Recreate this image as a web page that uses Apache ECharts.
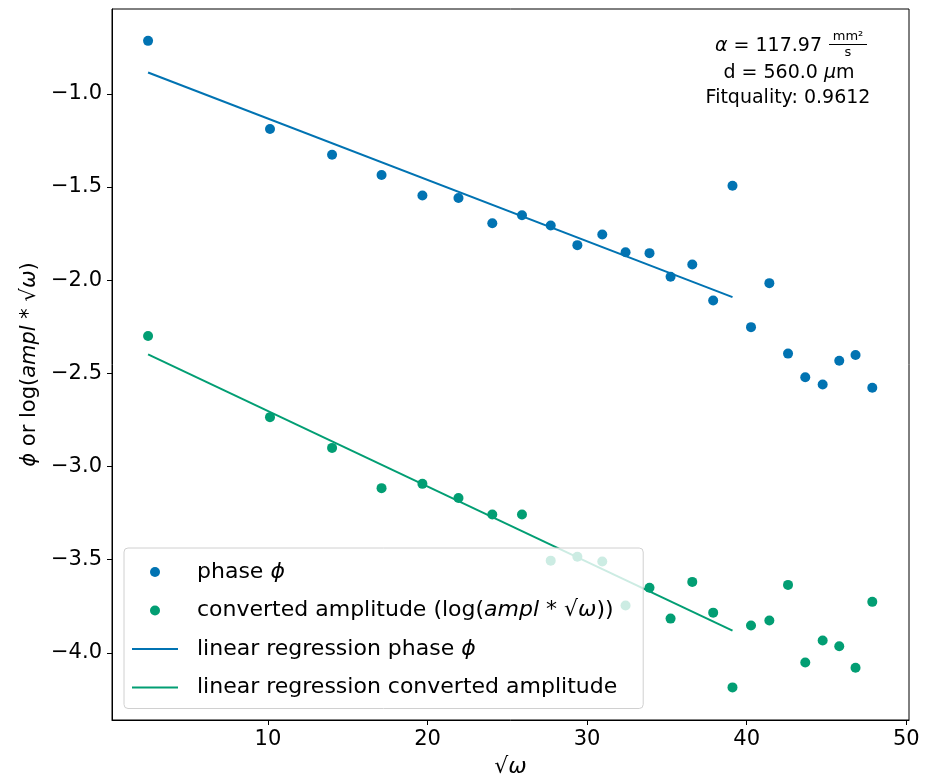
<!DOCTYPE html>
<html>
<head>
<meta charset="utf-8">
<script src="https://cdn.jsdelivr.net/npm/echarts@6/dist/echarts.min.js"></script>
<style>
  html, body { margin: 0; padding: 0; background: #fff; }
  #chart { width: 926px; height: 784px; }
</style>
</head>
<body>
<div id="chart"></div>
<script>
const sqrtOmega = [2.49, 10.13, 14.02, 17.12, 19.68, 21.94, 24.06, 25.92, 27.72, 29.39, 30.95, 32.41, 33.91,
  35.23, 36.59, 37.90, 39.11, 40.27, 41.42, 42.59, 43.67, 44.76, 45.80, 46.82, 47.87];
const phase = [-0.716, -1.189, -1.327, -1.436, -1.546, -1.559, -1.695, -1.652, -1.707, -1.812, -1.755, -1.850, -1.855,
  -1.982, -1.916, -2.109, -1.493, -2.252, -2.016, -2.394, -2.521, -2.560, -2.432, -2.402, -2.577];
const amplitude = [-2.300, -2.735, -2.900, -3.116, -3.093, -3.169, -3.257, -3.257, -3.505, -3.484, -3.510, -3.746, -3.650,
  -3.816, -3.619, -3.784, -4.185, -3.853, -3.826, -3.635, -4.051, -3.933, -3.964, -4.080, -3.726];

// regression lines (fit over the first 17 points)
const fitX = [2.49, 39.11];
const phaseFit = [-0.886, -2.091];
const ampFit = [-2.398, -3.880];

const xTicks = [10, 20, 30, 40, 50];
const yTicks = [-4.0, -3.5, -3.0, -2.5, -2.0, -1.5, -1.0];

const BLUE = '#0173B2';
const GREEN = '#029E73';
const FONT = 'DejaVu Sans';
const LINE_ICON = 'path://M0,0H46V2H0Z';

const pairs = (xs, ys) => xs.map((x, i) => [x, ys[i]]);
const minus = v => v.toFixed(1).replace('-', '\u2212');

const legendText = {
  'phase': 'phase {i|ϕ}',
  'amp': 'converted amplitude (log({i|ampl} * √{i|ω}))',
  'fitPhase': 'linear regression phase {i|ϕ}',
  'fitAmp': 'linear regression converted amplitude'
};

const chart = echarts.init(document.getElementById('chart'));

chart.setOption({
  animation: false,
  textStyle: { fontFamily: FONT },
  grid: {
    left: 112, right: 17, top: 9, bottom: 64,
    show: true, borderColor: '#000', borderWidth: 1, backgroundColor: 'transparent'
  },
  xAxis: {
    type: 'value',
    min: 0.23, max: 50.17,
    name: '√{i|ω}',
    nameLocation: 'middle',
    nameGap: 36,
    nameTextStyle: { fontFamily: FONT, fontSize: 22, color: '#000', rich: { i: { fontStyle: 'italic', fontSize: 22, fontFamily: FONT } } },
    axisLine: { show: true, onZero: false, lineStyle: { color: '#000', width: 1 } },
    axisTick: { show: true, length: 5, customValues: xTicks, lineStyle: { color: '#000' } },
    axisLabel: { customValues: xTicks, margin: 9, fontSize: 21, color: '#000', fontFamily: FONT },
    splitLine: { show: false }
  },
  yAxis: {
    type: 'value',
    min: -4.36, max: -0.545,
    name: '{i|ϕ} or log({i|ampl} * √{i|ω})',
    nameLocation: 'middle',
    nameGap: 70,
    nameTextStyle: { fontFamily: FONT, fontSize: 21, color: '#000', rich: { i: { fontStyle: 'italic', fontSize: 21, fontFamily: FONT } } },
    axisLine: { show: true, onZero: false, lineStyle: { color: '#000', width: 1 } },
    axisTick: { show: true, length: 5, customValues: yTicks, lineStyle: { color: '#000' } },
    axisLabel: { customValues: yTicks, margin: 10, fontSize: 21, color: '#000', fontFamily: FONT, formatter: minus },
    splitLine: { show: false }
  },
  legend: {
    orient: 'vertical',
    left: 124, top: 548,
    padding: [12, 26, 9, 8],
    itemWidth: 46, itemHeight: 10,
    itemGap: 14.5,
    backgroundColor: 'rgba(255,255,255,0.8)',
    borderColor: '#d0d0d0', borderWidth: 1, borderRadius: 4,
    data: [
      { name: 'phase', icon: 'circle' },
      { name: 'amp', icon: 'circle' },
      { name: 'fitPhase', icon: LINE_ICON },
      { name: 'fitAmp', icon: LINE_ICON }
    ],
    formatter: name => legendText[name],
    textStyle: {
      fontFamily: FONT, fontSize: 22, color: '#000', lineHeight: 24, padding: [0, 0, 0, 14],
      rich: { i: { fontStyle: 'italic', fontSize: 22, fontFamily: FONT } }
    }
  },
  series: [
    {
      name: 'phase', type: 'scatter', symbolSize: 10,
      itemStyle: { color: BLUE, opacity: 1 },
      data: pairs(sqrtOmega, phase)
    },
    {
      name: 'amp', type: 'scatter', symbolSize: 10,
      itemStyle: { color: GREEN, opacity: 1 },
      data: pairs(sqrtOmega, amplitude)
    },
    {
      name: 'fitPhase', type: 'line', symbol: 'none', showSymbol: false,
      lineStyle: { color: BLUE, width: 2 }, itemStyle: { color: BLUE },
      data: pairs(fitX, phaseFit)
    },
    {
      name: 'fitAmp', type: 'line', symbol: 'none', showSymbol: false,
      lineStyle: { color: GREEN, width: 2 }, itemStyle: { color: GREEN },
      data: pairs(fitX, ampFit)
    }
  ],
  graphic: [
    {
      type: 'text', x: 822, y: 46,
      style: {
        text: '{i|α} = 117.97', align: 'right', verticalAlign: 'middle',
        font: '19px "DejaVu Sans"', fill: '#000',
        rich: { i: { fontStyle: 'italic', fontSize: 19, fontFamily: FONT } }
      }
    },
    { type: 'text', x: 848, y: 37, style: { text: 'mm²', align: 'center', verticalAlign: 'middle', font: '13px "DejaVu Sans"', fill: '#000' } },
    { type: 'line', shape: { x1: 829, y1: 44.5, x2: 867, y2: 44.5 }, style: { stroke: '#000', lineWidth: 1 } },
    { type: 'text', x: 848, y: 53, style: { text: 's', align: 'center', verticalAlign: 'middle', font: '13px "DejaVu Sans"', fill: '#000' } },
    {
      type: 'text', x: 789, y: 73,
      style: {
        text: 'd = 560.0 {i|μ}m', align: 'center', verticalAlign: 'middle',
        font: '19px "DejaVu Sans"', fill: '#000',
        rich: { i: { fontStyle: 'italic', fontSize: 19, fontFamily: FONT } }
      }
    },
    { type: 'text', x: 788, y: 98, style: { text: 'Fitquality: 0.9612', align: 'center', verticalAlign: 'middle', font: '19px "DejaVu Sans"', fill: '#000' } }
  ]
});
</script>
</body>
</html>
